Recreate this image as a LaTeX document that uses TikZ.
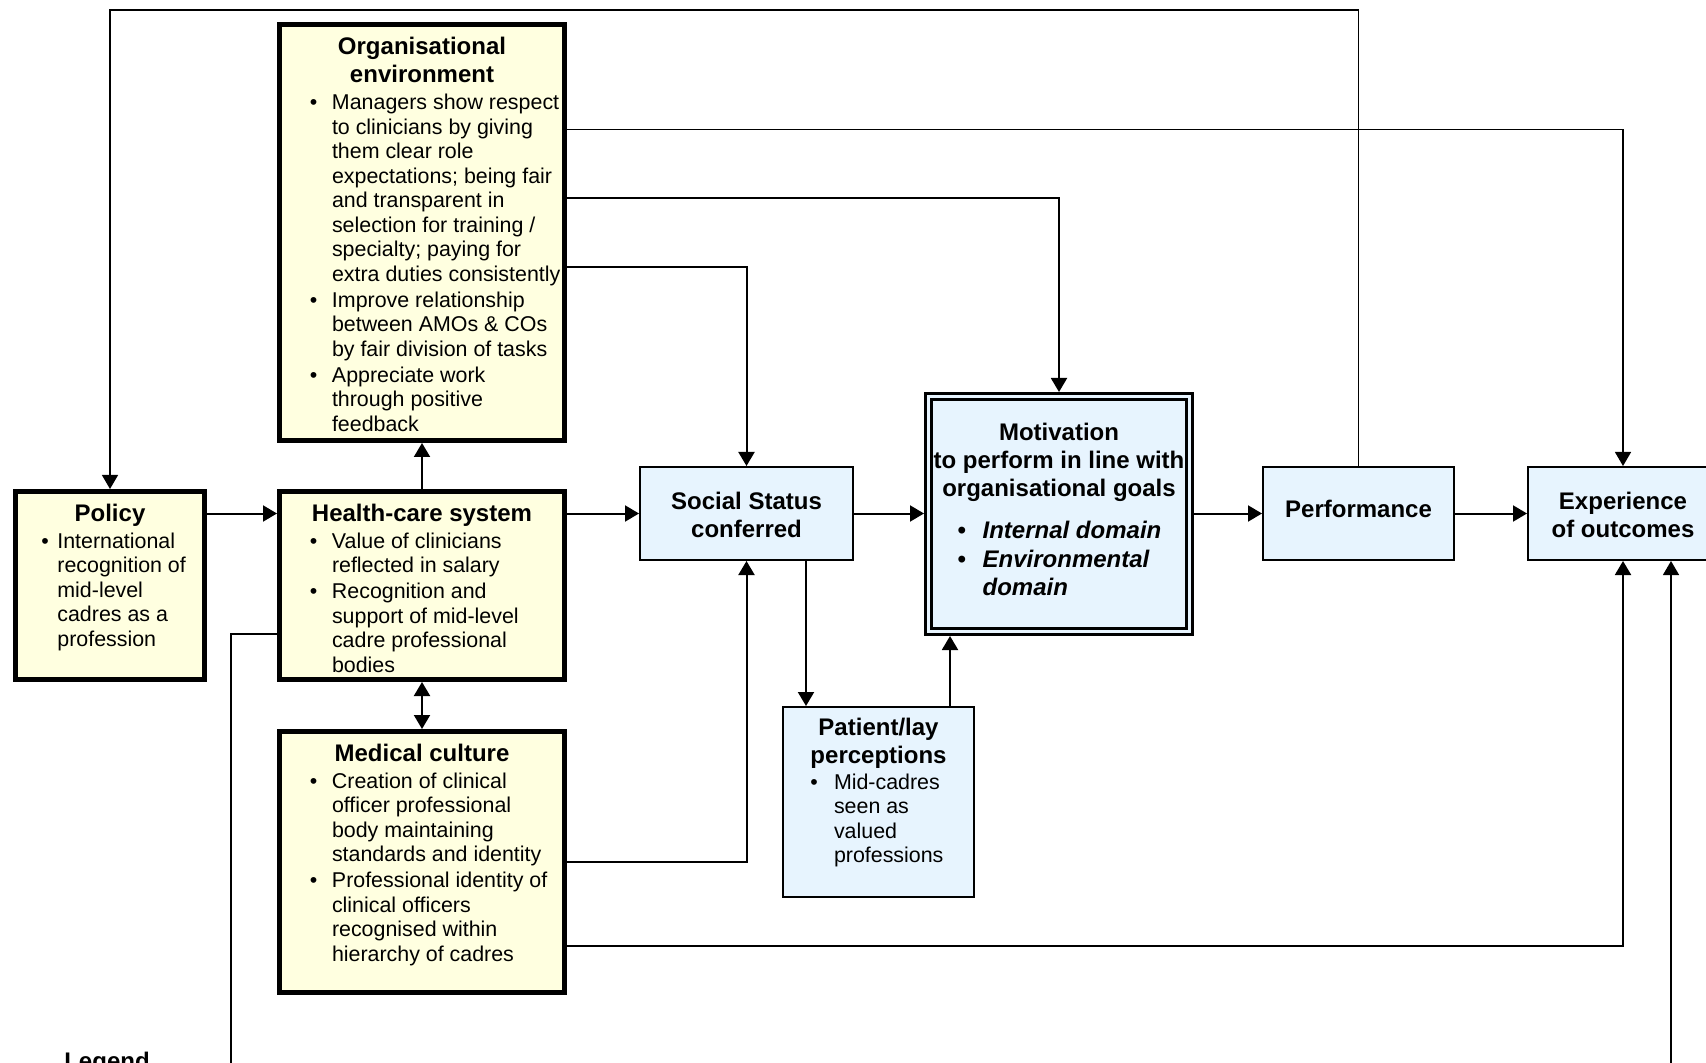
\documentclass[tikz,border=0pt]{standalone}
\usepackage{fontspec}
\setmainfont{Liberation Sans}
\usetikzlibrary{arrows.meta}
\definecolor{BoxYellow}{RGB}{255,255,224}
\definecolor{BoxBlue}{RGB}{231,244,254}
\newcommand{\titlefont}{\fontsize{12pt}{13.9pt}\selectfont\bfseries}
\newcommand{\bodyfont}{\fontsize{10.7pt}{12.25pt}\selectfont}
\newlength{\bulhang}
\newcommand{\boxtext}[4]{\parbox[c][#2][t]{#1}{\vspace*{#3}#4}}
\newcommand{\ttl}[2][0.65pt]{{\centering\titlefont\rule{0pt}{10pt}#2\par}\vspace{#1}}
\newcommand{\bullets}[2]{\par\raggedright\rightskip=0pt plus 1fil minus 15pt\relax\leftskip=#1\relax\setlength{\bulhang}{#2}}
\newcommand{\bul}{\par\vspace{0.75pt}\hangindent=\bulhang\hangafter=1\noindent\hbox to\bulhang{\textbullet\hfil}\ignorespaces}

\begin{document}
\begin{tikzpicture}[x=0.5pt,y=-0.5pt,
    yelbox/.style={draw, line width=2.5pt, fill=BoxYellow, inner sep=0pt, font=\bodyfont},
    bluebox/.style={draw, line width=1pt, fill=BoxBlue, inner sep=0pt, font=\bodyfont},
    motbox/.style={draw, line width=1.5pt, double=BoxBlue, double distance=1.35pt, fill=BoxBlue, inner sep=0pt, outer sep=2.175pt, font=\bodyfont},
    arr/.style={-{Triangle[length=7pt,width=8pt]}, line width=1pt},
    arrthin/.style={-{Triangle[length=7pt,width=8pt]}, line width=0.65pt},
    link/.style={line width=0.65pt}]
  \useasboundingbox (0,0) rectangle (1706,1063);
  \clip (0,0) rectangle (1706,1063);

  \node[yelbox] (org) at (422,232.5) {\boxtext{142.5pt}{208pt}{5pt}{%
    \ttl{Organisational\\environment}
    \bullets{15.15pt}{11.1pt}
    \bul Managers show respect\newline to clinicians by giving\newline them clear role\newline expectations; being fair\newline and transparent in\newline selection for training /\newline specialty; paying for\newline extra duties consistently
    \bul Improve relationship\newline between AMOs \& COs\newline by fair division of tasks
    \bul Appreciate work\newline through positive\newline feedback}};
  \node[yelbox] (policy) at (110,585.5) {\boxtext{94.5pt}{94pt}{4.75pt}{%
    \ttl{Policy}
    \bullets{13pt}{7.95pt}
    \bul International\newline recognition of\newline mid-level\newline cadres as a\newline profession}};
  \node[yelbox] (hcs) at (422,585.5) {\boxtext{142.5pt}{94pt}{4.75pt}{%
    \ttl{Health-care system}
    \bullets{15.15pt}{11.1pt}
    \bul Value of clinicians\newline reflected in salary
    \bul Recognition and\newline support of mid-level\newline cadre professional\newline bodies}};
  \node[yelbox] (mc) at (422,862) {\boxtext{142.5pt}{130.5pt}{4.75pt}{%
    \ttl{Medical culture}
    \bullets{15.15pt}{11.1pt}
    \bul Creation of clinical\newline officer professional\newline body maintaining\newline standards and identity
    \bul Professional identity of\newline clinical officers\newline recognised within\newline hierarchy of cadres}};

  \node[bluebox] (ss) at (746.5,513.5) {\boxtext{106.5pt}{46.5pt}{11.5pt}{\ttl{Social Status\\conferred}}};
  \node[motbox] (mot) at (1059,514) {\boxtext{130.65pt}{117.65pt}{12.1pt}{%
    \ttl[6.6pt]{Motivation\\to perform in line with\\organisational goals}
    \titlefont\itshape
    \bullets{14.5pt}{12.65pt}
    \bul Internal domain
    \bul Environmental\newline domain}};
  \node[bluebox] (pat) at (878.5,802) {\boxtext{95.5pt}{95pt}{4.25pt}{%
    \ttl[0pt]{Patient/lay\\perceptions}
    \bullets{13.65pt}{11.85pt}
    \bul Mid-cadres\newline seen as\newline valued\newline professions}};
  \node[bluebox] (perf) at (1358.5,513.5) {\boxtext{95.5pt}{46.5pt}{15.2pt}{\ttl{Performance}}};
  \node[bluebox] (exp) at (1623,513.5) {\boxtext{95pt}{46.5pt}{11.5pt}{\ttl{Experience\\of outcomes}}};

  \node[font=\titlefont, anchor=base] (legend) at (107,1069) {Legend};
  \coordinate (hcsdown) at (231,1075);
  \coordinate (expup) at (1671,1075);

  \draw[arr] (policy.east |- ss) -- (hcs.west |- ss);
  \draw[arr] (hcs.east |- ss) -- (ss.west);
  \draw[arr] (ss.east) -- (ss.east -| mot.west);
  \draw[arr] (mot.east |- perf) -- (perf.west);
  \draw[arr] (perf.east) -- (exp.west);
  \draw[arr] (hcs.north) -- (org.south);
  \draw[{Triangle[length=7pt,width=8pt]}-{Triangle[length=7pt,width=8pt]}, line width=1pt] (hcs.south) -- (mc.north);
  \draw[arr] (org.east |- 0,267) -| (ss.north);
  \draw[arr] (org.east |- 0,198) -| (mot.north);
  \draw[arrthin] (org.east |- 0,129.5) -| (exp.north);
  \draw[arrthin] (perf.north) -- (perf.north |- 0,10) -| (policy.north);
  \draw[arr] (mc.east |- 0,862) -| (ss.south);
  \draw[arr] (mc.east |- 0,945.5) -| (exp.south);
  \draw[arr] (ss.south -| 806,0) -- (pat.north -| 806,0);
  \draw[arr] (pat.north -| 950,0) -- (mot.south -| 950,0);
  \draw[link] (hcs.west |- 0,634) -| (hcsdown);
  \draw[arrthin] (expup) -- (expup |- exp.south);
\end{tikzpicture}
\end{document}
